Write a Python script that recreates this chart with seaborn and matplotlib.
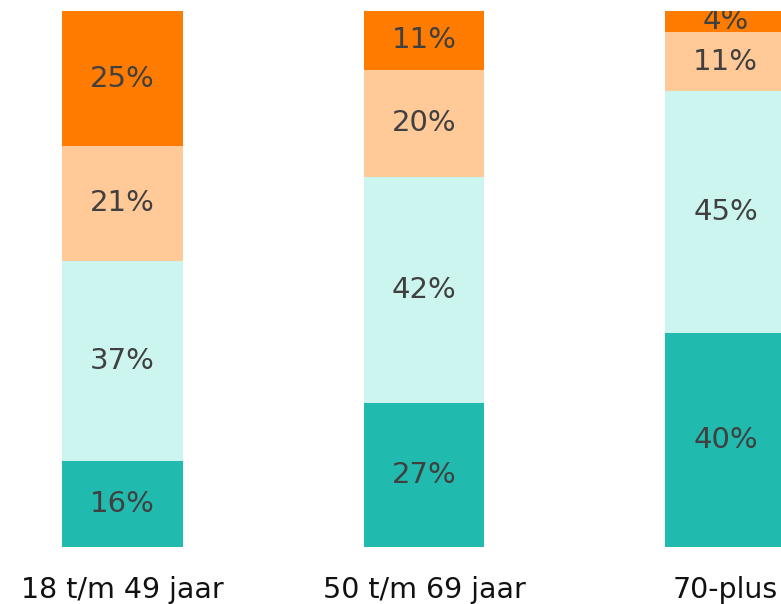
import numpy as np
import pandas as pd
import matplotlib
matplotlib.use("Agg")
import matplotlib.pyplot as plt
import seaborn as sns

# === Data (percentages per age group, bottom -> top) ===
groups = ["18 t/m 49 jaar", "50 t/m 69 jaar", "70-plus"]
seg_names = ["seg1", "seg2", "seg3", "seg4"]
seg1 = [16.0, 26.9, 39.9]
seg2 = [37.4, 42.1, 45.1]
seg3 = [21.3, 20.0, 11.0]
seg4 = [25.3, 11.1, 4.0]
colors = ["#21BAAE", "#CDF5F0", "#FFC998", "#FF7C00"]

df = pd.DataFrame({"group": groups, "seg1": seg1, "seg2": seg2, "seg3": seg3, "seg4": seg4})
cum = df[seg_names].cumsum(axis=1)

sns.set_style("white")
plt.rcParams["font.family"] = ["DejaVu Sans"]

fig = plt.figure(figsize=(7.81, 6.04), dpi=100)
ax = fig.add_axes([0, 0.0944, 1, 0.8879])

# stacked bars: draw cumulative totals from the top down
for name, col in reversed(list(zip(seg_names, colors))):
    sns.barplot(x=df["group"], y=cum[name], color=col, width=0.401,
                saturation=1, linewidth=0, ax=ax)

# segment labels
for i in range(len(groups)):
    bottom = 0
    for name in seg_names:
        v = df.loc[i, name]
        ax.text(i, bottom + v / 2, f"{v:.0f}%", ha="center", va="center",
                fontsize=21, color="#404040", clip_on=True)
        bottom += v

ax.set_xlim(-0.406, 2.184)
ax.set_ylim(0, 100)
ax.set_xlabel("")
ax.set_ylabel("")
ax.set_yticks([])
ax.tick_params(axis="x", length=0, labelsize=20.5, labelcolor="#111111", pad=21)
sns.despine(ax=ax, left=True, bottom=True)

fig.savefig("out.png", dpi=100)
